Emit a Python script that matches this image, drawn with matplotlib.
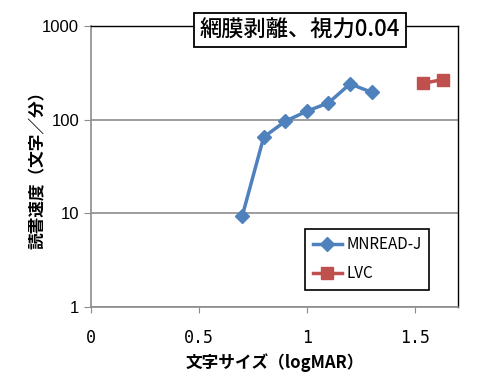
import matplotlib
matplotlib.use("Agg")
import matplotlib.pyplot as plt

# データ
mnread_x = [0.7, 0.8, 0.9, 1.0, 1.1, 1.2, 1.3]
mnread_y = [9.2, 65, 96, 123, 151, 241, 196]
lvc_x = [1.54, 1.63]
lvc_y = [245, 268]

xticks = [0, 0.5, 1, 1.5]
xticklabels = ['0', '0.5', '1', '1.5']
yticks = [1, 10, 100, 1000]
yticklabels = ['1', '10', '100', '1000']

jp = ['Noto Sans CJK JP', 'DejaVu Sans']
plt.rcParams['font.family'] = jp

fig = plt.figure(figsize=(4.88, 3.84), dpi=100)
ax = fig.add_axes([0.1865, 0.2016, 0.752, 0.7304])

ax.plot(mnread_x, mnread_y, color='#4F81BD', lw=2.5, marker='D', ms=7,
        label='MNREAD-J')
ax.plot(lvc_x, lvc_y, color='#C0504D', lw=2.5, marker='s', ms=9,
        label='LVC')

ax.set_yscale('log')
ax.set_xlim(0, 1.7)
ax.set_ylim(1, 1000)
ax.set_yticks(yticks)
ax.set_yticklabels(yticklabels, fontsize=12, family='Liberation Sans')
ax.set_xticks(xticks)
ax.set_xticklabels(xticklabels, fontsize=12, family='DejaVu Sans Mono')
ax.minorticks_off()
ax.yaxis.grid(True, color='#8c8c8c', lw=1.2)
ax.tick_params(axis='y', colors='#8c8c8c', length=5, labelcolor='black')
ax.tick_params(axis='x', colors='#8c8c8c', length=4, pad=12, labelcolor='black')

for s in ['left', 'bottom']:
    ax.spines[s].set_color('#8c8c8c')
    ax.spines[s].set_linewidth(1.2)
for s in ['top', 'right']:
    ax.spines[s].set_color('black')
    ax.spines[s].set_linewidth(1.0)

ax.set_xlabel('文字サイズ（logMAR）', fontsize=12, fontweight='bold', labelpad=5)
ax.set_ylabel('読書速度（文字／分）', fontsize=12, fontweight='bold', labelpad=-3)

ax.text(0.569, 0.986, '網膜剥離、視力0.04', transform=ax.transAxes,
        ha='center', va='center', fontsize=16, fontweight='medium',
        bbox=dict(boxstyle='square,pad=0.25', fc='white', ec='black', lw=1.3))

leg = ax.legend(loc='lower left', bbox_to_anchor=(0.583, 0.059), fontsize=11,
                fancybox=False, edgecolor='black', framealpha=1,
                handlelength=1.9, handletextpad=0.3, borderpad=0.5,
                labelspacing=0.8, borderaxespad=0)
leg.get_frame().set_linewidth(1.2)

fig.savefig('out.png', dpi=100)
